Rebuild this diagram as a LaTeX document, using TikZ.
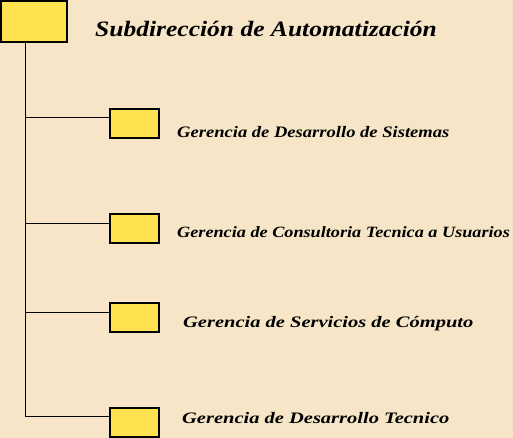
\documentclass[tikz,border=0pt]{standalone}
\usepackage{fontspec}
\setmainfont{Liberation Serif}
\newfontfamily\letra[FakeStretch=1.16]{Liberation Serif}
\newfontfamily\letraancha[FakeStretch=1.28]{Liberation Serif}
\usepackage{tikz}
\usetikzlibrary{positioning}
\definecolor{fondo}{RGB}{246,230,199}
\definecolor{amarillo}{RGB}{255,226,80}

\begin{document}
\begin{tikzpicture}[x=1pt,y=-1pt,
    caja/.style={draw=black,line width=1.1pt,fill=amarillo,inner sep=0pt},
    rama/.style={draw=black,line width=1pt},
    letrero/.style={font=\letra\bfseries\itshape\fontsize{16}{19}\selectfont,anchor=base west,inner sep=0pt}]
      \fill[fondo] (0,0) rectangle (513,438);
      \useasboundingbox (0,0) rectangle (513,438);

      \node[caja,minimum width=66pt,minimum height=41pt] (sub) at (34,21.5) {};
      \node[letrero,font=\letra\bfseries\itshape\fontsize{22}{27}\selectfont] (titulo) at (95,37) {Subdirección de Automatización};

      \node[caja,minimum width=49pt,minimum height=29pt] (g1) at (134.5,123.5) {};
      \node[caja,minimum width=49pt,minimum height=29pt] (g2) at (134.5,228.5) {};
      \node[caja,minimum width=49pt,minimum height=29pt] (g3) at (134.5,317.5) {};
      \node[caja,minimum width=49pt,minimum height=29pt] (g4) at (134.5,422.5) {};

      \node[letrero] (t1) at (177,138) {Gerencia de Desarrollo de Sistemas};
      \node[letrero,font=\letra\bfseries\itshape\fontsize{15.7}{19}\selectfont] (t2) at (177,237) {Gerencia de Consultoria Tecnica a Usuarios};
      \node[letrero,font=\letraancha\bfseries\itshape\fontsize{16}{19}\selectfont] (t3) at (183,327) {Gerencia de Servicios de Cómputo};
      \node[letrero,font=\letraancha\bfseries\itshape\fontsize{16}{19}\selectfont] (t4) at (182,423) {Gerencia de Desarrollo Tecnico};

      \coordinate (tronco) at (25,0);
      \draw[rama] (sub.south -| tronco) -- ([yshift=5.5pt]g4.west -| tronco);
      \draw[rama] ([yshift=5.5pt]g1.west -| tronco) -- ([yshift=5.5pt]g1.west);
      \draw[rama] ([yshift=5.5pt]g2.west -| tronco) -- ([yshift=5.5pt]g2.west);
      \draw[rama] ([yshift=5.5pt]g3.west -| tronco) -- ([yshift=5.5pt]g3.west);
      \draw[rama] ([yshift=6.5pt]g4.west -| tronco) -- ([yshift=6.5pt]g4.west);
\end{tikzpicture}
\end{document}
